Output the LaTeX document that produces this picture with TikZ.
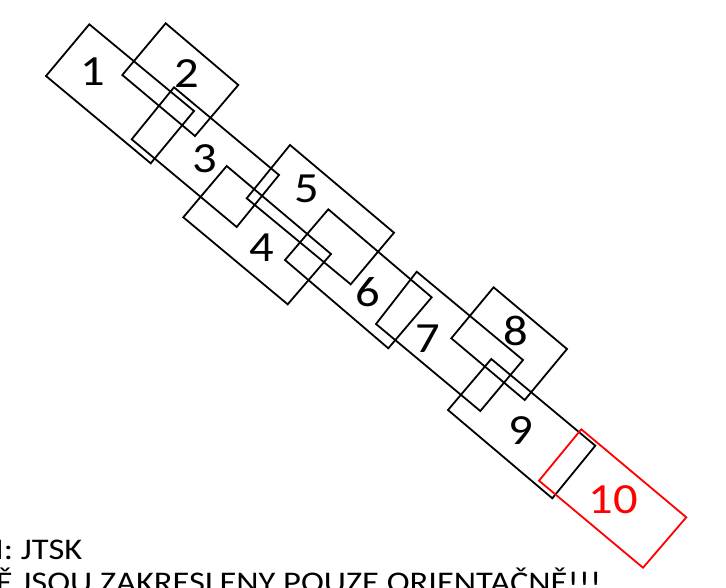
\documentclass[tikz,border=0pt]{standalone}
\usepackage{fontspec}
\setmainfont{Carlito}[FakeStretch=1.13]
\newfontfamily\notefont{Carlito}[FakeStretch=1.15]
\begin{document}
\begin{tikzpicture}[x=1pt,y=-1pt,
  box/.style={draw=black,line width=1.8pt,line join=miter},
  redbox/.style={draw=red,line width=1.8pt,line join=miter},
  num/.style={font=\fontsize{43}{43}\selectfont,inner sep=0pt,anchor=center},
  note/.style={font=\notefont\fontsize{30}{33}\selectfont,inner sep=0pt,anchor=base east}]
\useasboundingbox (0,0) rectangle (726,587);
\clip (0,0) rectangle (726,587);
% rectangles
\draw[box] (89.3,24.3) -- (194,111) -- (150.7,163.3) -- (46,76) -- cycle;
\draw[box] (165.7,23.3) -- (238.3,85) -- (195,136) -- (122.3,75) -- cycle;
\draw[box] (174,87.3) -- (279,175) -- (236.7,227) -- (131.7,139.3) -- cycle;
\draw[box] (226.7,166) -- (331,254) -- (287.7,304.3) -- (183.3,217.3) -- cycle;
\draw[box] (290,145) -- (394,232.7) -- (350.7,284.3) -- (246.7,198.3) -- cycle;
\draw[box] (328.3,209.3) -- (431.7,297.3) -- (388.3,348.3) -- (285,260) -- cycle;
\draw[box] (416.7,271.7) -- (523,360) -- (480.3,411) -- (376,324) -- cycle;
\draw[box] (493.6,287.3) -- (567,349) -- (524.7,400) -- (451.3,338.3) -- cycle;
\draw[box] (491.3,359) -- (595.3,445.7) -- (552.3,498.3) -- (448,410) -- cycle;
\draw[redbox] (581.3,429.3) -- (686.3,517.3) -- (643,567.7) -- (539,480.7) -- cycle;
% labels
\node[num] (n1) at (93.3,71.7) {1};
\node[num] (n2) at (186.7,73.3) {2};
\node[num] (n3) at (205,158.3) {3};
\node[num] (n4) at (261.7,247.5) {4};
\node[num] (n5) at (306.7,189) {5};
\node[num] (n6) at (367.5,291.7) {6};
\node[num] (n7) at (427.5,338.3) {7};
\node[num] (n8) at (515.5,330.8) {8};
\node[num] (n9) at (521.3,430.8) {9};
\node[num,text=red] (n10) at (613.5,499.2) {10};
% notes
\node[note] (t1) at (82.5,559.3) {M: JTSK};
\node[note] (t2) at (601.5,592) {Ě JSOU ZAKRESLENY POUZE ORIENTAČNĚ!!!};
\end{tikzpicture}
\end{document}
